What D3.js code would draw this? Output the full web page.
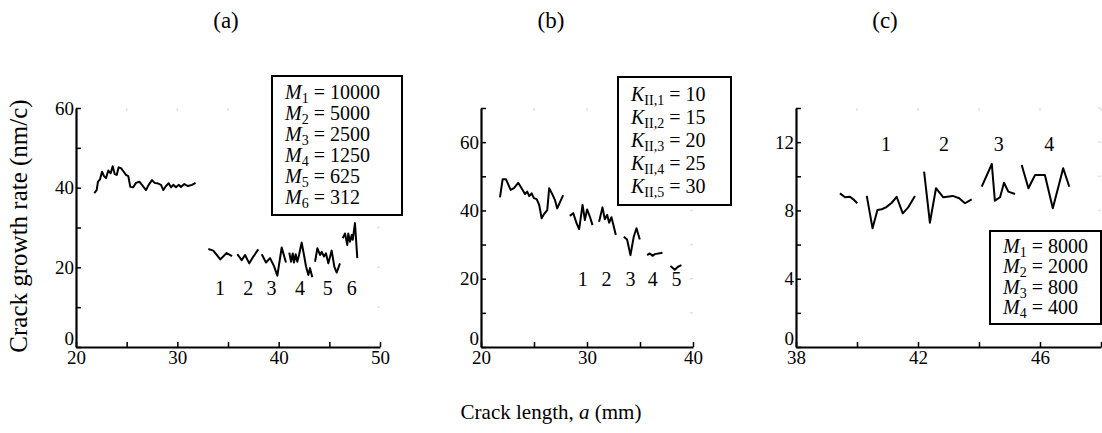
<!DOCTYPE html>
<html>
<head>
<meta charset="utf-8">
<script src="https://cdn.jsdelivr.net/npm/d3@7"></script>
<style>
  body { margin: 0; background: #fff; }
  svg text { font-family: "Liberation Serif", "Times New Roman", Times, serif !important; fill: #000; }
</style>
</head>
<body>
<div id="chart"></div>
<script>
// --------------- Data ---------------

// panel (a): reference run, then runs 1..6
const a0 = [[21.8,38.6],[22.04,39.4],[22.17,41.5],[22.37,42.1],[22.57,44.0],[22.76,42.9],[22.96,42.4],[23.19,44.3],[23.42,43.6],[23.62,45.4],[23.82,43.4],[24.02,43.2],[24.21,45.1],[24.44,44.9],[24.71,44.0],[24.93,43.2],[25.16,42.9],[25.36,40.2],[25.65,40.1],[25.92,41.2],[26.25,41.5],[26.51,40.7],[26.91,39.4],[27.17,40.7],[27.5,41.9],[27.77,41.2],[28.06,41.1],[28.39,40.7],[28.62,39.4],[28.88,40.4],[29.15,41.1],[29.38,40.1],[29.6,40.7],[29.87,40.1],[30.13,40.7],[30.36,40.2],[30.69,40.9],[31.05,40.4],[31.45,40.7],[31.8,41.2]];
const a1 = [[33.06,24.6],[33.55,24.2],[34.24,22.0],[34.87,23.6],[35.4,22.8]];
const a2 = [[35.92,23.3],[36.35,21.8],[36.68,23.1],[37.1,21.0],[37.5,22.7],[37.99,24.5]];
const a3 = [[38.33,23.3],[38.75,21.2],[39.15,22.3],[39.54,20.3],[39.87,17.9],[40.3,25.0],[40.72,21.2]];
const a4 = [[41.05,23.7],[41.22,21.4],[41.39,23.5],[41.51,21.2],[41.68,23.3],[41.84,21.4],[42.01,23.1],[42.27,26.2],[42.5,23.1],[42.7,20.2],[42.93,18.1],[43.09,19.8],[43.32,17.5]];
const a5 = [[43.59,21.4],[43.82,24.8],[44.08,23.1],[44.25,23.9],[44.47,22.7],[44.67,23.5],[44.9,21.0],[45.23,24.2],[45.49,20.2],[45.73,18.7],[46.05,21.0]];
const a6 = [[46.32,27.3],[46.55,28.5],[46.77,25.6],[46.87,28.5],[47.04,26.4],[47.21,28.1],[47.31,26.9],[47.53,31.1],[47.76,22.3]];

// panel (b)
const b0 = [[21.79,43.8],[22.04,49.1],[22.36,49.1],[22.8,46.0],[23.11,46.5],[23.51,48.1],[23.83,46.5],[24.15,44.8],[24.36,45.5],[24.55,44.2],[24.78,45.0],[24.99,43.6],[25.25,43.3],[25.49,41.6],[25.72,37.7],[25.96,39.0],[26.25,40.1],[26.43,46.5],[26.69,45.0],[26.97,43.1],[27.19,40.6],[27.75,44.5]];
const b1 = [[28.38,38.4],[28.7,39.2],[29.02,36.2],[29.26,34.5],[29.58,41.6],[29.8,37.2],[30.01,40.3],[30.27,38.2],[30.52,35.7]];
const b2 = [[31.14,36.7],[31.46,40.9],[31.68,37.4],[31.9,38.7],[32.09,36.4],[32.31,38.0],[32.72,32.8]];
const b3 = [[33.47,32.3],[33.78,31.5],[34.1,26.9],[34.41,32.3],[34.67,34.8],[34.98,31.5]];
const b4 = [[35.67,26.9],[35.92,27.4],[36.18,26.7],[36.4,27.2],[37.12,27.6]];
const b5 = [[37.87,23.7],[38.28,22.6],[38.59,23.5],[38.91,24.0]];

// panel (c)
const c0 = [[39.44,9.0],[39.61,8.77],[39.77,8.8],[39.88,8.65],[40.01,8.42]];
const c1 = [[40.32,8.85],[40.51,6.95],[40.67,8.03],[40.81,8.07],[40.95,8.18],[41.14,8.45],[41.3,8.8],[41.5,7.83],[41.68,8.18],[41.9,8.85]];
const c2 = [[42.2,10.27],[42.39,7.28],[42.59,9.3],[42.83,8.77],[43.14,8.85],[43.35,8.71],[43.54,8.42],[43.76,8.65]];
const c3 = [[44.09,9.39],[44.42,10.72],[44.52,8.57],[44.69,8.77],[44.82,9.62],[44.96,9.1],[45.18,8.96]];
const c4 = [[45.4,10.66],[45.62,9.3],[45.84,10.08],[46.16,10.08],[46.42,8.13],[46.76,10.47],[46.96,9.39]];

// run labels (number, x, y in data units)
const runLabelsA = [["1",34.2,14.7],["2",37.0,14.7],["3",39.3,14.7],["4",42.1,14.7],["5",44.85,14.7],["6",47.2,14.7]];
const runLabelsB = [["1",29.6,19.8],["2",31.85,19.8],["3",34.1,19.8],["4",36.2,19.8],["5",38.45,19.8]];
const runLabelsC = [["1",40.95,11.9],["2",42.85,11.9],["3",44.65,11.9],["4",46.3,11.9]];

// legends
const legendA = [["1",10000],["2",5000],["3",2500],["4",1250],["5",625],["6",312]];
const legendB = [["II,1",10],["II,2",15],["II,3",20],["II,4",25],["II,5",30]];
const legendC = [["1",8000],["2",2000],["3",800],["4",400]];

// ticks
const xTicksA = [20,25,30,35,40,45,50], xLabA = [20,30,40,50];
const yTicksA = [0,10,20,30,40,50,60], yLabA = [0,20,40,60];
const xTicksB = [20,25,30,35,40], xLabB = [20,30,40];
const yTicksB = [0,10,20,30,40,50,60,70], yLabB = [0,20,40,60];
const xTicksC = [38,40,42,44,46,48], xLabC = [38,42,46];
const yTicksC = [0,2,4,6,8,10,12,14], yLabC = [0,4,8,12];

// --------------- Layout ---------------
const W = 1102, H = 433;
const Y_BOTTOM = 347, Y_TOP = 108;
const SERIF = '"Liberation Serif", "Times New Roman", serif';

const panels = [
  { title: "(a)", tx: 226, left: 76, right: 380, xd: [20,50], yd: [0,60],
    xt: xTicksA, xl: xLabA, yt: yTicksA, yl: yLabA,
    series: [a0,a1,a2,a3,a4,a5,a6], labels: runLabelsA,
    legend: { items: legendA, sym: "M", x: 272, y: 76, w: 130, h: 139 } },
  { title: "(b)", tx: 551, left: 481, right: 693, xd: [20,40], yd: [0,70],
    xt: xTicksB, xl: xLabB, yt: yTicksB, yl: yLabB,
    series: [b0,b1,b2,b3,b4,b5], labels: runLabelsB,
    legend: { items: legendB, sym: "K", x: 618, y: 77, w: 113, h: 128 } },
  { title: "(c)", tx: 885, left: 796, right: 1101, xd: [38,48], yd: [0,14],
    xt: xTicksC, xl: xLabC, yt: yTicksC, yl: yLabC,
    series: [c0,c1,c2,c3,c4], labels: runLabelsC,
    legend: { items: legendC, sym: "M", x: 990, y: 231, w: 111, h: 93 } }
];

const svg = d3.select("#chart").append("svg")
  .attr("width", W).attr("height", H)
  .style("font-family", SERIF);

const line = d3.line();

panels.forEach((p) => {
  const x = d3.scaleLinear().domain(p.xd).range([p.left, p.right]);
  const y = d3.scaleLinear().domain(p.yd).range([Y_BOTTOM, Y_TOP]);

  // faint mirror ticks on top and right
  const ghost = svg.append("g").attr("stroke", "#e2e2e2").attr("stroke-width", 1.5);
  p.xt.slice(1).forEach((v) => {
    ghost.append("line").attr("x1", x(v)).attr("x2", x(v)).attr("y1", Y_TOP).attr("y2", Y_TOP + 3);
  });
  p.yt.slice(1).forEach((v) => {
    ghost.append("line").attr("x1", p.right).attr("x2", p.right - 3).attr("y1", y(v)).attr("y2", y(v));
  });

  const xAxis = d3.axisBottom(x).tickValues(p.xt)
    .tickFormat((d) => (p.xl.includes(d) ? d : ""))
    .tickSizeInner(-5).tickSizeOuter(0).tickPadding(3);
  const yAxis = d3.axisLeft(y).tickValues(p.yt)
    .tickFormat((d) => (p.yl.includes(d) ? d : ""))
    .tickSizeInner(-5).tickSizeOuter(0).tickPadding(2);

  const gx = svg.append("g").attr("transform", `translate(0,${Y_BOTTOM})`).call(xAxis);
  const gy = svg.append("g").attr("transform", `translate(${p.left},0)`).call(yAxis);
  [gx, gy].forEach((g) => {
    g.attr("font-family", SERIF).attr("font-size", 19);
    g.select(".domain").attr("stroke-width", 2.2);
    g.selectAll(".tick line").attr("stroke-width", 1.5);
    // drop the empty labels of minor ticks
    g.selectAll(".tick text").filter(function () { return this.textContent === ""; }).remove();
  });
  // lift the zero label a little, as in the original
  gy.selectAll(".tick text").filter((d) => d === 0).attr("dy", "-0.12em");

  // data runs
  p.series.forEach((s) => {
    svg.append("path")
      .attr("d", line(s.map((d) => [x(d[0]), y(d[1])])))
      .attr("fill", "none")
      .attr("stroke", "#000")
      .attr("stroke-width", 2)
      .attr("stroke-linejoin", "round");
  });

  // run numbers
  p.labels.forEach((l) => {
    svg.append("text")
      .attr("x", x(l[1])).attr("y", y(l[2]))
      .attr("dy", "0.35em")
      .attr("text-anchor", "middle")
      .attr("font-size", 20)
      .text(l[0]);
  });

  // panel title
  svg.append("text")
    .attr("x", p.tx).attr("y", 28)
    .attr("text-anchor", "middle")
    .attr("font-size", 23)
    .text(p.title);

  // legend box
  const lg = p.legend;
  svg.append("rect")
    .attr("x", lg.x).attr("y", lg.y)
    .attr("width", lg.w).attr("height", lg.h)
    .attr("fill", "#fff").attr("stroke", "#000").attr("stroke-width", 2);
  const step = (lg.h - 12) / lg.items.length;
  lg.items.forEach((it, i) => {
    const t = svg.append("text")
      .attr("x", lg.x + 13)
      .attr("y", lg.y + 6 + step * (i + 0.5) + 6)
      .attr("font-size", 20);
    t.append("tspan").attr("font-style", "italic").text(lg.sym);
    t.append("tspan").attr("font-size", 14).attr("dy", 4).text(it[0]);
    t.append("tspan").attr("dy", -4).text(" = " + it[1]);
  });
});

// shared axis titles
svg.append("text")
  .attr("transform", "translate(27,226) rotate(-90)")
  .attr("text-anchor", "middle")
  .attr("font-size", 25)
  .text("Crack growth rate (nm/c)");

const xt = svg.append("text")
  .attr("x", 551).attr("y", 419)
  .attr("text-anchor", "middle")
  .attr("font-size", 21);
xt.append("tspan").text("Crack length, ");
xt.append("tspan").attr("font-style", "italic").text("a");
xt.append("tspan").text(" (mm)");
</script>
</body>
</html>
